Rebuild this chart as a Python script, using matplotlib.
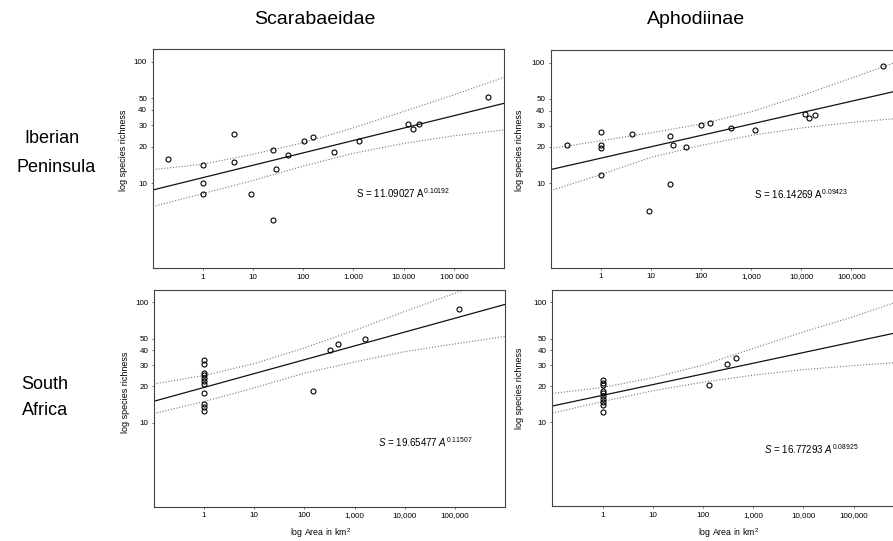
import numpy as np
import matplotlib
matplotlib.use("Agg")
import matplotlib.pyplot as plt

plt.rcParams['font.family'] = ['Liberation Sans', 'DejaVu Sans']
plt.rcParams['mathtext.fontset'] = 'custom'
plt.rcParams['mathtext.rm'] = 'Liberation Sans'
plt.rcParams['mathtext.it'] = 'Liberation Sans:italic'

# data (area in km2, species richness)
ib_scar_area = [0.2, 1, 1, 1, 4.1, 4.1, 9.1, 25, 25, 29, 50, 102, 154, 406, 1300, 12500, 15300, 20500, 490000]
ib_scar_S = [15.9, 14.1, 10.0, 8.1, 25.2, 15.0, 8.1, 18.9, 5.0, 13.0, 17.0, 22.0, 24.0, 18.0, 22.0, 30.9, 27.8, 30.9, 51.5]

ib_aph_area = [0.21, 1, 1, 1, 1, 4.1, 9, 24.6, 24.6, 28, 50, 98, 148, 390, 1200, 11700, 14300, 18800, 430000]
ib_aph_S = [20.7, 26.6, 20.6, 19.6, 11.8, 25.6, 5.9, 24.6, 9.8, 20.6, 19.9, 30.5, 31.6, 28.6, 27.8, 37.7, 34.7, 36.7, 93.8]

sa_scar_area = [1, 1, 1, 1, 1, 1, 1, 1, 1, 1, 1, 146, 329, 476, 1650, 120000]
sa_scar_S = [33.5, 31.0, 26.0, 24.7, 23.4, 22.1, 20.9, 17.7, 14.4, 13.4, 12.4, 18.3, 40.3, 45.4, 49.3, 88.1]

sa_aph_area = [1, 1, 1, 1, 1, 1, 1, 1, 1, 1, 134, 307, 450]
sa_aph_S = [22.4, 21.3, 20.3, 18.3, 17.4, 16.5, 15.5, 14.7, 14.0, 12.2, 20.4, 30.5, 34.6]

# confidence bands read at each decade
band_x = [0.1, 1, 10, 100, 1000, 10000, 100000, 1000000]
ib_scar_up = [12.9, 14.3, 17.3, 21.5, 28.5, 38.8, 53.2, 74.3]
ib_scar_lo = [6.4, 8.2, 10.5, 13.8, 17.6, 21.2, 24.5, 27.4]
ib_aph_up = [19.4, 22.5, 26.2, 30.9, 39.1, 53.1, 74.2, 104.5]
ib_aph_lo = [8.7, 11.8, 16.4, 20.6, 24.9, 28.7, 31.9, 34.7]
sa_scar_up = [21.0, 24.7, 31.0, 41.9, 58.6, 84.1, 119.4, 169.0]
sa_scar_lo = [11.9, 15.0, 19.5, 25.8, 32.0, 39.0, 45.2, 52.2]
sa_aph_up = [17.4, 19.5, 23.5, 30.0, 41.3, 56.7, 76.0, 105.9]
sa_aph_lo = [11.9, 14.9, 18.3, 21.6, 24.7, 27.5, 29.7, 31.8]

# fitted power laws S = c * A^z
fit_c = [11.09027, 16.14269, 19.65477, 16.77293]
fit_z = [0.10192, 0.09423, 0.11507, 0.08925]
eq_text = [r"S = 11.09027 A$^{0.10192}$",
           r"S = 16.14269 A$^{0.09423}$",
           r"$S$ = 19.65477 $A^{0.11507}$",
           r"$S$ = 16.77293 $A^{0.08925}$"]

xticks = [1, 10, 100, 1000, 10000, 100000]
xlab_eu = ['1', '10', '100', '1.000', '10.000', '100 000']
xlab_en = ['1', '10', '100', '1,000', '10,000', '100,000']
yticks = [10, 20, 30, 40, 50, 100]

W, H = 893, 541
fig = plt.figure(figsize=(W / 100, H / 100), dpi=100)


def box(left, top, right, bottom):
    return [left / W, 1 - bottom / H, (right - left) / W, (bottom - top) / H]


def ftext(x, y, s, **kw):
    fig.text(x / W, 1 - y / H, s, **kw)


def panel(rect, area, S, up, lo, i, xlabels):
    ax = fig.add_axes(rect)
    ax.set_xscale('log')
    ax.set_yscale('log')
    bx = np.array(band_x)
    ax.plot(bx, fit_c[i] * bx ** fit_z[i], color='#111111', lw=0.9)
    ax.plot(band_x, up, color='#777777', lw=0.8, ls=(0, (1, 1.6)))
    ax.plot(band_x, lo, color='#777777', lw=0.8, ls=(0, (1, 1.6)))
    ax.plot(area, S, 'o', mfc='none', mec='black', ms=3.6, mew=0.8, clip_on=False)
    ax.set_xlim(0.1, 1e6)
    ax.set_ylim(2, 127)
    ax.set_xticks(xticks)
    ax.set_xticklabels(xlabels)
    ax.set_yticks(yticks)
    ax.set_yticklabels([str(v) for v in yticks])
    ax.minorticks_off()
    ax.tick_params(length=1.5, width=0.6, labelsize=5.8, pad=2.5, color='#555555')
    for sp in ax.spines.values():
        sp.set_color('#444444')
        sp.set_linewidth(0.8)
    return ax


panel(box(152.7, 49, 504, 268), ib_scar_area, ib_scar_S, ib_scar_up, ib_scar_lo, 0, xlab_eu)
panel(box(550.7, 50, 901.4, 267.7), ib_aph_area, ib_aph_S, ib_aph_up, ib_aph_lo, 1, xlab_en)
panel(box(154, 290, 505, 506.7), sa_scar_area, sa_scar_S, sa_scar_up, sa_scar_lo, 2, xlab_en)
panel(box(552.3, 290, 903.7, 506), sa_aph_area, sa_aph_S, sa_aph_up, sa_aph_lo, 3, xlab_en)

# equations
ftext(356, 198.5, eq_text[0], fontsize=7, va='baseline')
ftext(754, 199, eq_text[1], fontsize=7, va='baseline')
ftext(378, 447, eq_text[2], fontsize=7, va='baseline')
ftext(764, 454, eq_text[3], fontsize=7, va='baseline')

# axis labels
for x, y in [(123.5, 150), (519, 150), (125, 392), (519, 388)]:
    ftext(x, y, 'log species richness', fontsize=6.5, rotation=90, ha='center', va='center')
ftext(321, 533, r'log Area in km$^2$', fontsize=6.3, ha='center', va='center')
ftext(729, 533, r'log Area in km$^2$', fontsize=6.3, ha='center', va='center')

# column and row titles
ftext(315, 24.5, 'Scarabaeidae', fontsize=14, ha='center', va='baseline')
ftext(696, 24.5, 'Aphodiinae', fontsize=14, ha='center', va='baseline')
ftext(52, 143, 'Iberian', fontsize=13, ha='center', va='baseline')
ftext(56, 172, 'Peninsula', fontsize=13, ha='center', va='baseline')
ftext(45, 389, 'South', fontsize=13, ha='center', va='baseline')
ftext(45, 415, 'Africa', fontsize=13, ha='center', va='baseline')

plt.savefig('out.png', dpi=100)
